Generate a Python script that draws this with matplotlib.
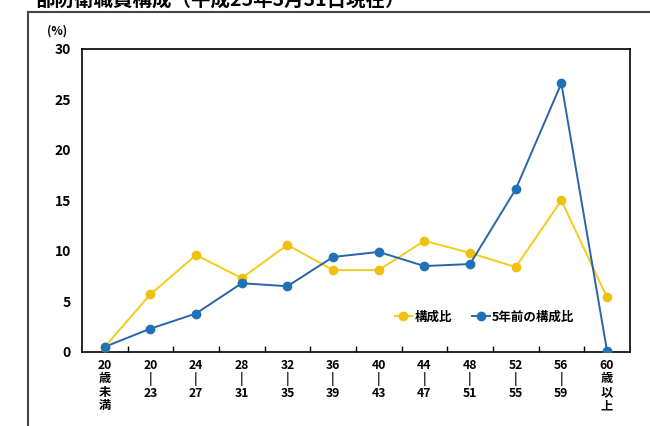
import matplotlib
matplotlib.use("Agg")
import matplotlib.pyplot as plt
from matplotlib.patches import Rectangle

plt.rcParams['font.family'] = ['Noto Sans CJK JP', 'DejaVu Sans']

categories = ["20\n歳\n未\n満", "20\n|\n23", "24\n|\n27", "28\n|\n31", "32\n|\n35",
              "36\n|\n39", "40\n|\n43", "44\n|\n47", "48\n|\n51", "52\n|\n55",
              "56\n|\n59", "60\n歳\n以\n上"]
current_ratio = [0.5, 5.7, 9.6, 7.3, 10.6, 8.1, 8.1, 11.0, 9.8, 8.4, 15.0, 5.4]
ratio_5y_ago = [0.5, 2.3, 3.8, 6.8, 6.5, 9.4, 9.9, 8.5, 8.7, 16.1, 26.6, 0.1]
series_labels = ["構成比", "5年前の構成比"]
y_ticks = [0, 5, 10, 15, 20, 25, 30]
title = "部防衛職員構成（平成25年3月31日現在）"

fig = plt.figure(figsize=(6.5, 4.26), dpi=100)
ax = fig.add_axes([0.126, 0.174, 0.843, 0.711])

x = list(range(len(categories)))
ax.plot(x, current_ratio, color="#F2CC1A", lw=1.4, marker="o", ms=6,
        mfc="#F0C010", mec="#F0C010", label=series_labels[0], zorder=3)
ax.plot(x, ratio_5y_ago, color="#2A64A8", lw=1.4, marker="o", ms=6,
        mfc="#1F72B8", mec="#1F72B8", label=series_labels[1], zorder=4)

ax.set_xlim(-0.5, len(categories) - 0.5)
ax.set_ylim(0, 30)
ax.set_yticks(y_ticks)
ax.set_yticklabels([str(v) for v in y_ticks], fontsize=10, fontweight="bold")
ax.tick_params(axis="y", length=0, pad=8)

ax.set_xticks(x)
ax.set_xticklabels(categories, fontsize=8.8, fontweight="bold", linespacing=1.05, va="top")
ax.tick_params(axis="x", length=0, pad=5)
ax.set_xticks([i + 0.5 for i in range(len(categories) - 1)], minor=True)
ax.tick_params(axis="x", which="minor", direction="in", length=4, width=1)

for s in ax.spines.values():
    s.set_linewidth(1.2)
    s.set_color("black")

ax.text(-0.045, 1.06, "(%)", transform=ax.transAxes, fontsize=8.5,
        fontweight="bold", ha="center", va="center")

leg = ax.legend(loc="center", bbox_to_anchor=(0.735, 0.115), ncol=2, frameon=False,
                handlelength=1.4, handletextpad=0.2, columnspacing=1.6,
                prop={"weight": "bold", "size": 9})

fig.patches.append(Rectangle((28 / 650, -0.1), 2, (426 - 12) / 426 + 0.1,
                             transform=fig.transFigure, fill=False,
                             edgecolor="#444444", lw=1.5))
fig.text(35 / 650, 1 - 5.5 / 426, title, fontsize=14, fontweight="bold",
         ha="left", va="baseline")

fig.savefig("out.png", dpi=100)
